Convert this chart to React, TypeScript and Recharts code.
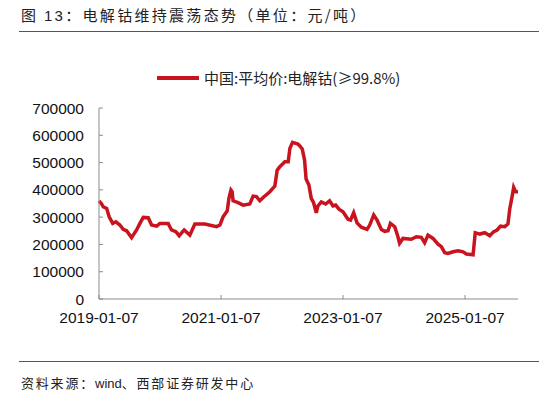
import { LineChart, Line, XAxis, YAxis, Legend } from 'recharts';

// 中国:平均价:电解钴(≥99.8%)，元/吨，周度
const dates = [
  '2019-01-07', '2019-01-21', '2019-02-01', '2019-02-22', '2019-03-09', '2019-03-30',
  '2019-04-18', '2019-05-12', '2019-06-01', '2019-06-21', '2019-07-21', '2019-08-20',
  '2019-09-09', '2019-09-29', '2019-10-29', '2019-11-18', '2019-12-18', '2020-01-07',
  '2020-02-25', '2020-03-16', '2020-04-11', '2020-05-01', '2020-05-31', '2020-07-04',
  '2020-08-03', '2020-10-02', '2020-12-11', '2020-12-31', '2021-01-19', '2021-02-13',
  '2021-02-23', '2021-03-07', '2021-03-14', '2021-03-20', '2021-04-19', '2021-05-19',
  '2021-06-28', '2021-07-18', '2021-08-07', '2021-08-27', '2021-09-16', '2021-10-26',
  '2021-11-25', '2021-12-09', '2021-12-25', '2022-01-24', '2022-02-13', '2022-02-23',
  '2022-03-11', '2022-04-12', '2022-04-22', '2022-05-08', '2022-05-22', '2022-05-31',
  '2022-06-17', '2022-07-01', '2022-07-15', '2022-07-31', '2022-08-10', '2022-08-30',
  '2022-09-25', '2022-10-19', '2022-11-08', '2022-11-24', '2022-12-14', '2023-01-07',
  '2023-02-06', '2023-02-21', '2023-03-12', '2023-04-01', '2023-04-27', '2023-05-31',
  '2023-06-16', '2023-07-10', '2023-07-30', '2023-08-25', '2023-09-14', '2023-10-04',
  '2023-10-18', '2023-11-13', '2023-12-02', '2023-12-12', '2024-01-01', '2024-02-20',
  '2024-03-21', '2024-04-20', '2024-05-10', '2024-05-30', '2024-06-29', '2024-07-29',
  '2024-08-18', '2024-09-07', '2024-09-27', '2024-10-27', '2024-11-26', '2024-12-26',
  '2025-01-15', '2025-02-24', '2025-03-09', '2025-04-05', '2025-05-05', '2025-06-04',
  '2025-06-28', '2025-07-18', '2025-08-07', '2025-09-02', '2025-09-21', '2025-10-02',
  '2025-10-12', '2025-10-25', '2025-11-06', '2025-11-20',
];

const prices = [
  360000, 350000, 338000, 332000, 301000, 277000,
  283000, 271000, 255000, 250000, 225000, 253000,
  277000, 299000, 298000, 271000, 267000, 277000,
  277000, 253000, 247000, 232000, 253000, 234000,
  275000, 275000, 265000, 271000, 301000, 323000,
  369000, 399000, 393000, 360000, 353000, 344000,
  348000, 377000, 375000, 360000, 372000, 393000,
  414000, 472000, 485000, 503000, 503000, 552000,
  574000, 568000, 562000, 550000, 509000, 440000,
  418000, 369000, 353000, 316000, 341000, 356000,
  348000, 360000, 341000, 344000, 329000, 320000,
  292000, 289000, 316000, 279000, 263000, 255000,
  271000, 308000, 289000, 255000, 248000, 250000,
  277000, 265000, 228000, 204000, 222000, 219000,
  228000, 226000, 206000, 234000, 222000, 201000,
  192000, 170000, 167000, 173000, 177000, 173000,
  165000, 162000, 243000, 238000, 243000, 232000,
  247000, 253000, 267000, 265000, 275000, 332000,
  363000, 409000, 393000, 393000,
];

const xTickDates = ['2019-01-07', '2021-01-07', '2023-01-07', '2025-01-07'];
const yTicks = [0, 100000, 200000, 300000, 400000, 500000, 600000, 700000];

const SERIES = '中国:平均价:电解钴(≥99.8%)';
const RED = '#c8141e';
const AXIS = '#8c8c8c';
const FONT = '"Liberation Sans", Arial, sans-serif';
const CJK = '"Noto Sans CJK SC", sans-serif';

const data = dates.map((d, i) => ({ t: Date.parse(d), v: prices[i] }));
const xTicks = xTickDates.map((d) => Date.parse(d));
const fmtDate = (t: number) => new Date(t).toISOString().slice(0, 10);

function LegendContent() {
  return (
    <div style={{ display: 'flex', alignItems: 'center', fontFamily: CJK, fontSize: 15, color: '#222' }}>
      <svg width={42} height={8} style={{ marginRight: 5 }}>
        <line x1={1} y1={4} x2={41} y2={4} stroke={RED} strokeWidth={4} strokeLinecap="round" />
      </svg>
      <span>{SERIES}</span>
    </div>
  );
}

export default function App() {
  return (
    <div style={{ position: 'fixed', left: 0, top: 0, width: 539, height: 399, background: '#fff' }}>
      <div style={{ position: 'absolute', left: 21, top: 4, fontFamily: CJK, fontSize: 15, letterSpacing: 2.3, color: '#222', whiteSpace: 'nowrap' }}>
        图 <span style={{ fontFamily: FONT }}>13</span>：电解钴维持震荡态势（单位：元/吨）
      </div>
      <div style={{ position: 'absolute', left: 19, top: 31, width: 520, height: 1, background: '#555' }} />

      <div style={{ position: 'absolute', left: 0, top: 0 }}>
        <LineChart width={539} height={399} data={data} margin={{ top: 108, right: 21, bottom: 70, left: 0 }}>
          <XAxis
            dataKey="t"
            type="number"
            scale="time"
            domain={['dataMin', 'dataMax']}
            ticks={xTicks}
            tickFormatter={fmtDate}
            height={30}
            stroke={AXIS}
            tickSize={-4}
            tickMargin={17}
            tick={{ fill: '#111', fontSize: 15.5, fontFamily: FONT }}
            interval={0}
          />
          <YAxis
            domain={[0, 700000]}
            ticks={yTicks}
            width={99}
            stroke={AXIS}
            tickSize={-4}
            tickMargin={19}
            tick={{ fill: '#111', fontSize: 15.5, fontFamily: FONT }}
            interval={0}
          />
          <Legend
            verticalAlign="middle"
            content={<LegendContent />}
            wrapperStyle={{ top: 67, left: 157, width: 300 }}
          />
          <Line
            type="linear"
            dataKey="v"
            name={SERIES}
            stroke={RED}
            strokeWidth={3.5}
            dot={false}
            isAnimationActive={false}
          />
        </LineChart>
      </div>

      <div style={{ position: 'absolute', left: 19, top: 361, width: 520, height: 1, background: '#555' }} />
      <div style={{ position: 'absolute', left: 21, top: 373, fontFamily: CJK, fontSize: 13, letterSpacing: 1.8, color: '#222', whiteSpace: 'nowrap' }}>
        资料来源：<span style={{ fontFamily: FONT, letterSpacing: 0 }}>wind</span>、西部证券研发中心
      </div>
    </div>
  );
}
